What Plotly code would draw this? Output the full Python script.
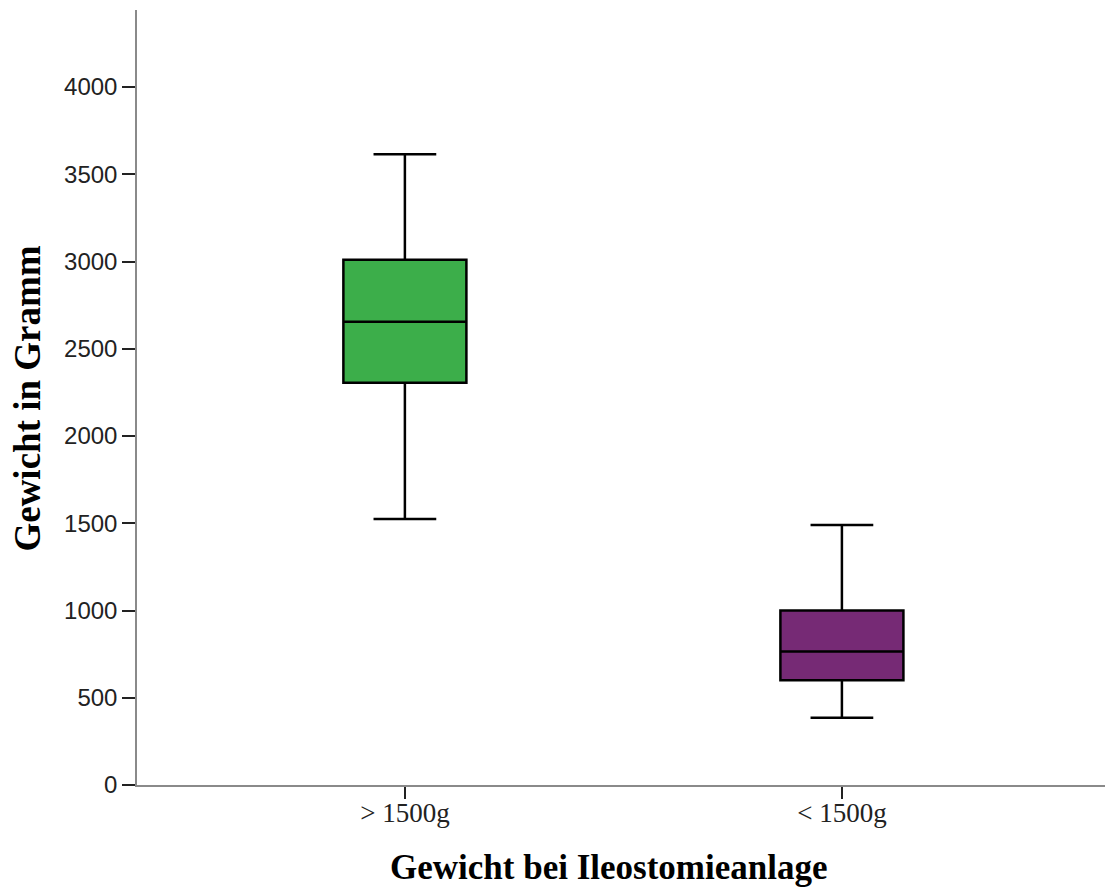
import plotly.graph_objects as go

# Five-number summaries per weight group (grams)
groups = ["> 1500g", "< 1500g"]
lower_whisker = [1525, 385]
q1 = [2305, 600]
median = [2655, 765]
q3 = [3010, 1000]
upper_whisker = [3615, 1490]
fill_colors = ["rgb(60,174,74)", "rgb(118,42,117)"]

y_ticks = [0, 500, 1000, 1500, 2000, 2500, 3000, 3500, 4000]

fig = go.Figure()
for i, g in enumerate(groups):
    fig.add_trace(go.Box(
        x=[g],
        q1=[q1[i]],
        median=[median[i]],
        q3=[q3[i]],
        lowerfence=[lower_whisker[i]],
        upperfence=[upper_whisker[i]],
        fillcolor=fill_colors[i],
        line=dict(color="black", width=2.5),
        width=0.2815,
        whiskerwidth=0.51,
        boxpoints=False,
        showlegend=False,
        hoverinfo="skip",
    ))

fig.update_layout(
    width=1105,
    height=887,
    margin=dict(l=137, r=0, t=10, b=102),
    paper_bgcolor="white",
    plot_bgcolor="white",
    xaxis=dict(
        type="category",
        categoryorder="array",
        categoryarray=groups,
        range=[-0.613, 1.602],
        showline=True,
        linecolor="#8a8a8a",
        linewidth=1.5,
        showgrid=False,
        zeroline=False,
        ticks="outside",
        ticklen=12,
        tickwidth=1.5,
        tickcolor="#222222",
        ticklabelstandoff=-9,
        tickfont=dict(family="Liberation Serif", size=27, color="#222222"),
    ),
    yaxis=dict(
        range=[0, 4441.5],
        tickvals=y_ticks,
        ticktext=[str(v) for v in y_ticks],
        showline=True,
        linecolor="#8a8a8a",
        linewidth=1.5,
        showgrid=False,
        zeroline=False,
        ticks="outside",
        ticklen=13,
        tickwidth=1.5,
        tickcolor="#222222",
        tickfont=dict(family="Liberation Sans", size=24, color="#222222"),
    ),
    annotations=[
        dict(
            text="<b>Gewicht bei Ileostomieanlage</b>",
            xref="paper", yref="paper",
            x=0.4866, y=-0.107,
            xanchor="center", yanchor="middle",
            showarrow=False,
            font=dict(family="Liberation Serif", size=35, color="black"),
        ),
        dict(
            text="<b>Gewicht in Gramm</b>",
            xref="paper", yref="paper",
            x=-0.1131, y=0.498,
            xanchor="center", yanchor="middle",
            textangle=-90,
            showarrow=False,
            font=dict(family="Liberation Serif", size=37, color="black"),
        ),
    ],
)

fig.write_html("out.html")
